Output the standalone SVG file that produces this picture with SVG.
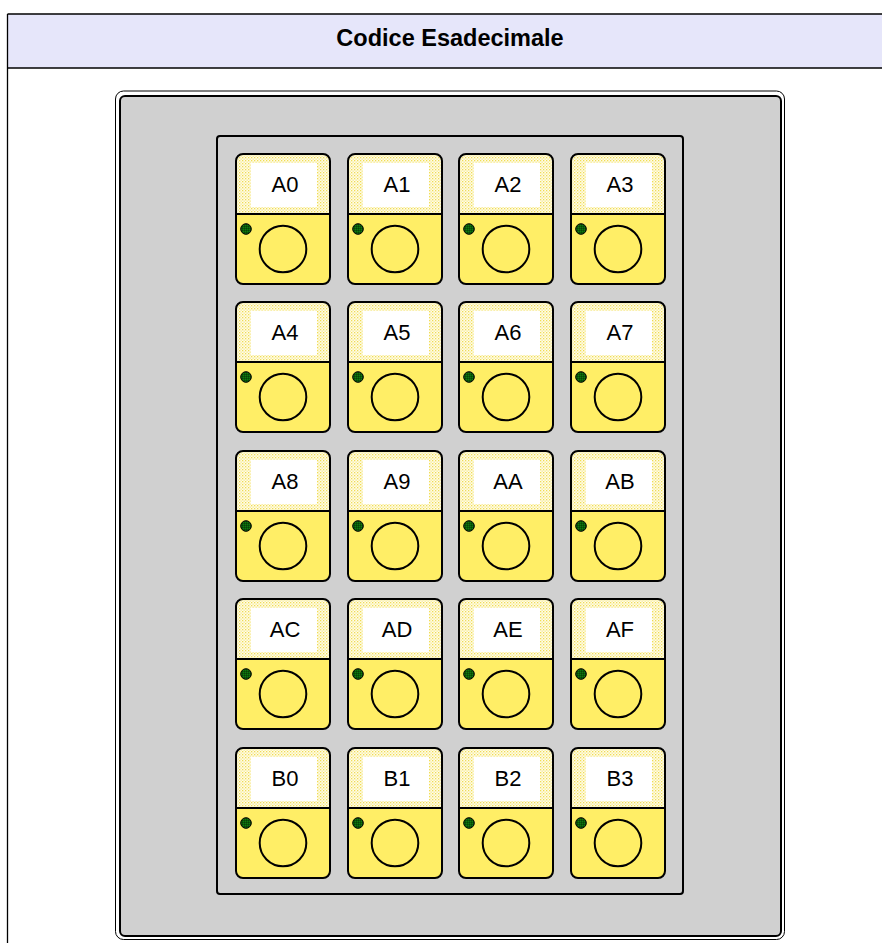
<svg xmlns="http://www.w3.org/2000/svg" xmlns:xlink="http://www.w3.org/1999/xlink" width="882" height="943" viewBox="0 0 882 943">
<style>
.lbl{font-family:"Liberation Sans",Arial,sans-serif;font-size:22px;fill:#000;text-anchor:middle}
.title{font-family:"Liberation Sans",Arial,sans-serif;font-size:23.5px;font-weight:bold;fill:#000;text-anchor:middle}
.edge{stroke:#000;stroke-width:2;fill:none}
</style>
<defs>
<pattern id="dots" width="3" height="3" patternUnits="userSpaceOnUse">
<rect width="3" height="3" fill="#FFFCE8"/>
<rect x="0" y="0" width="1.3" height="1.3" fill="#F0DC55"/>
<rect x="1.5" y="1.5" width="1.3" height="1.3" fill="#F6E98C"/>
</pattern>
<pattern id="grid" width="2" height="2" patternUnits="userSpaceOnUse">
<rect width="2" height="2" fill="#0E7A0E"/>
<path d="M0 0.25H2M0.25 0V2" stroke="#022002" stroke-width="0.5"/>
</pattern>
<g id="key">
<rect x="0" y="0" width="94" height="130" rx="7" fill="#FFEE66"/>
<path d="M0 60V7A7 7 0 0 1 7 0H87A7 7 0 0 1 94 7V60Z" fill="url(#dots)"/>
<rect x="15" y="9" width="66" height="44" fill="#FFFFFF"/>
<line x1="0" y1="60" x2="94" y2="60" stroke="#000" stroke-width="2"/>
<rect x="0" y="0" width="94" height="130" rx="7" class="edge"/>
<circle cx="47" cy="95" r="23.3" class="edge"/>
<circle cx="10" cy="75" r="5.3" fill="url(#grid)" stroke="#000" stroke-width="1"/>
</g>
</defs>
<rect width="882" height="943" fill="#FFFFFF"/>
<g id="header">
<rect x="7.5" y="14" width="900" height="54" fill="#E6E6FA"/>
<line x1="7.5" y1="14" x2="882" y2="14" stroke="#000" stroke-width="1.3"/>
<line x1="7.5" y1="68" x2="882" y2="68" stroke="#000" stroke-width="1.3"/>
<line x1="7.5" y1="14" x2="7.5" y2="943" stroke="#000" stroke-width="1.3"/>
<text class="title" x="450" y="46">Codice Esadecimale</text>
</g>
<g id="panel">
<rect x="115.5" y="91" width="669" height="848.5" rx="8" fill="#FFFFFF" stroke="#000" stroke-width="1"/>
<rect x="120" y="96" width="661" height="840" rx="5" fill="#D0D0D0" stroke="#000" stroke-width="2"/>
<rect x="217" y="136" width="466" height="758" rx="3" class="edge"/>
</g>
<g id="connectors"/>
<g id="key-A0" transform="translate(236,154)"><use xlink:href="#key"/><text class="lbl" x="49" y="38">A0</text></g>
<g id="key-A1" transform="translate(348,154)"><use xlink:href="#key"/><text class="lbl" x="49" y="38">A1</text></g>
<g id="key-A2" transform="translate(459,154)"><use xlink:href="#key"/><text class="lbl" x="49" y="38">A2</text></g>
<g id="key-A3" transform="translate(571,154)"><use xlink:href="#key"/><text class="lbl" x="49" y="38">A3</text></g>
<g id="key-A4" transform="translate(236,302)"><use xlink:href="#key"/><text class="lbl" x="49" y="38">A4</text></g>
<g id="key-A5" transform="translate(348,302)"><use xlink:href="#key"/><text class="lbl" x="49" y="38">A5</text></g>
<g id="key-A6" transform="translate(459,302)"><use xlink:href="#key"/><text class="lbl" x="49" y="38">A6</text></g>
<g id="key-A7" transform="translate(571,302)"><use xlink:href="#key"/><text class="lbl" x="49" y="38">A7</text></g>
<g id="key-A8" transform="translate(236,451)"><use xlink:href="#key"/><text class="lbl" x="49" y="38">A8</text></g>
<g id="key-A9" transform="translate(348,451)"><use xlink:href="#key"/><text class="lbl" x="49" y="38">A9</text></g>
<g id="key-AA" transform="translate(459,451)"><use xlink:href="#key"/><text class="lbl" x="49" y="38">AA</text></g>
<g id="key-AB" transform="translate(571,451)"><use xlink:href="#key"/><text class="lbl" x="49" y="38">AB</text></g>
<g id="key-AC" transform="translate(236,599)"><use xlink:href="#key"/><text class="lbl" x="49" y="38">AC</text></g>
<g id="key-AD" transform="translate(348,599)"><use xlink:href="#key"/><text class="lbl" x="49" y="38">AD</text></g>
<g id="key-AE" transform="translate(459,599)"><use xlink:href="#key"/><text class="lbl" x="49" y="38">AE</text></g>
<g id="key-AF" transform="translate(571,599)"><use xlink:href="#key"/><text class="lbl" x="49" y="38">AF</text></g>
<g id="key-B0" transform="translate(236,748)"><use xlink:href="#key"/><text class="lbl" x="49" y="38">B0</text></g>
<g id="key-B1" transform="translate(348,748)"><use xlink:href="#key"/><text class="lbl" x="49" y="38">B1</text></g>
<g id="key-B2" transform="translate(459,748)"><use xlink:href="#key"/><text class="lbl" x="49" y="38">B2</text></g>
<g id="key-B3" transform="translate(571,748)"><use xlink:href="#key"/><text class="lbl" x="49" y="38">B3</text></g>
</svg>
